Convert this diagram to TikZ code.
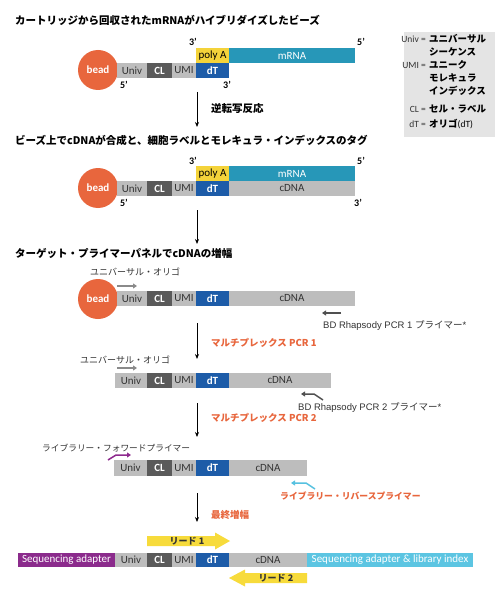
\documentclass[tikz,border=0pt]{standalone}
\usepackage{fontspec}
\setmainfont{Carlito}
\newfontfamily\jp{Noto Sans CJK JP}
\newfontfamily\arl{Liberation Sans}
\usetikzlibrary{arrows.meta}
\definecolor{beadc}{HTML}{E8663D}
\definecolor{segg}{HTML}{BDBDBD}
\definecolor{cld}{HTML}{5A5A5A}
\definecolor{dtb}{HTML}{1D5CA8}
\definecolor{polyy}{HTML}{F4D33A}
\definecolor{mrnac}{HTML}{2797B8}
\definecolor{seqp}{HTML}{8B2B8C}
\definecolor{seqb}{HTML}{5CC5E2}
\definecolor{orng}{HTML}{E8663D}
\definecolor{yarr}{HTML}{F7DB3B}
\definecolor{legbg}{HTML}{E4E4E4}
\definecolor{txtg}{HTML}{333333}
\definecolor{primg}{HTML}{8A8A8A}
\definecolor{primd}{HTML}{505050}
\definecolor{primp}{HTML}{8E2A8E}
\definecolor{primb}{HTML}{56C1E0}
\newcommand\dseg[8]{\node[segbox,fill=#6,text=#7,minimum width={(#3-#2)*1pt},minimum height={(#5-#4)*1pt}] (#1) at ({(#2+#3)/2},{(#4+#5)/2}) {#8};}
\newcommand\corestrand[4]{%
\dseg{#1u}{#4}{147}{#2}{#3}{segg}{txtg}{Univ}
\dseg{#1c}{147}{172}{#2}{#3}{cld}{white}{\bfseries CL}
\dseg{#1m}{172}{196}{#2}{#3}{segg}{txtg}{UMI}
\dseg{#1d}{196}{229}{#2}{#3}{dtb}{white}{\bfseries dT}}
\begin{document}
\begin{tikzpicture}[x=1pt,y=-1pt,
  segbox/.style={inner sep=0pt,outer sep=0pt,font=\fontsize{11}{12}\selectfont},
  ttl/.style={anchor=west,inner sep=0pt,font=\jp\bfseries\fontsize{10.5}{12}\selectfont},
  beadn/.style={circle,fill=beadc,minimum size=40pt,inner sep=0pt,text=white,font=\bfseries\fontsize{11}{12}\selectfont},
  prime/.style={inner sep=0pt,font=\bfseries\fontsize{10}{11}\selectfont},
  varrow/.style={line width=0.8pt,-{Stealth[length=5pt,width=4pt]}},
  primer/.style={line width=1.8pt,-{Triangle[length=4pt,width=5pt]}},
  steplbl/.style={anchor=west,inner sep=0pt,font=\jp\bfseries\fontsize{10.5}{12}\selectfont},
  orlbl/.style={anchor=west,inner sep=0pt,text=orng,font=\jp\bfseries\fontsize{9.5}{11}\selectfont},
  olig/.style={anchor=west,inner sep=0pt,text=txtg,font=\jp\fontsize{9}{10}\selectfont},
  bdl/.style={anchor=west,inner sep=0pt,text=txtg,font=\arl\fontsize{9.5}{10}\selectfont},
  legl/.style={anchor=base east,inner sep=0pt,text=txtg,font=\fontsize{9.5}{10}\selectfont},
  legr/.style={anchor=base west,inner sep=0pt,text=black,font=\jp\bfseries\fontsize{9.5}{11}\selectfont},
  readl/.style={inner sep=0pt,text=txtg,font=\jp\bfseries\fontsize{9}{10}\selectfont}]
\useasboundingbox (0,0) rectangle (500,596);
\fill[white] (0,0) rectangle (500,596);

% ---------- legend
\node[fill=legbg,minimum width=91pt,minimum height=105pt,inner sep=0pt] (leg) at (449.5,84.5) {};
\node[legl] (lu) at (426,43) {Univ =};
\node[legr] (lu1) at (429,43) {ユニバーサル};
\node[legr] (lu2) at (429,56) {シーケンス};
\node[legl] (lm) at (426,69) {UMI =};
\node[legr] (lm1) at (429,69) {ユニーク};
\node[legr] (lm2) at (429,82) {モレキュラ};
\node[legr] (lm3) at (429,95) {インデックス};
\node[legl] (lc) at (426,113) {CL =};
\node[legr] (lc1) at (429,113) {セル・ラベル};
\node[legl] (ld) at (426,128) {dT =};
\node[legr] (ld1) at (429,128) {オリゴ\normalfont\fontsize{9.5}{11}\selectfont(dT)};

% ---------- section 1
\node[ttl] (t1) at (15,20) {カートリッジから回収されたmRNAがハイブリダイズしたビーズ};
\node[beadn] (b1) at (98,70) {bead};
\corestrand{s1}{63}{78}{117}
\dseg{s1p}{196}{229}{48}{63}{polyy}{black}{poly A}
\dseg{s1r}{229}{355}{48}{63}{mrnac}{white}{mRNA}
\node[prime] (p1a) at (193,42) {3'};
\node[prime] (p1b) at (361,42) {5'};
\node[prime] (p1c) at (124,85) {5'};
\node[prime] (p1d) at (227,85) {3'};
\coordinate (a1s) at (197,92);
\coordinate (a1e) at (197,127);
\draw[varrow] (a1s) -- (a1e);
\node[steplbl] (l1) at (211,109) {逆転写反応};

% ---------- section 2
\node[ttl] (t2) at (15,140) {ビーズ上でcDNAが合成と、細胞ラベルとモレキュラ・インデックスのタグ};
\node[beadn] (b2) at (98,188) {bead};
\corestrand{s2}{181}{196}{117}
\dseg{s2x}{229}{355}{181}{196}{segg}{txtg}{cDNA}
\dseg{s2p}{196}{229}{166}{181}{polyy}{black}{poly A}
\dseg{s2r}{229}{355}{166}{181}{mrnac}{white}{mRNA}
\node[prime] (p2a) at (193,161) {3'};
\node[prime] (p2b) at (361,161) {5'};
\node[prime] (p2c) at (124,203) {5'};
\node[prime] (p2d) at (358,203) {3'};
\coordinate (a2s) at (197,210);
\coordinate (a2e) at (197,244);
\draw[varrow] (a2s) -- (a2e);

% ---------- section 3
\node[ttl] (t3) at (15,253) {ターゲット・プライマーパネルでcDNAの増幅};
\node[olig] (o3) at (90,272) {ユニバーサル・オリゴ};
\coordinate (g3a) at (117,286);
\coordinate (g3b) at (137,286);
\draw[primer,primg] (g3a) -- (g3b);
\node[beadn] (b3) at (98,299) {bead};
\corestrand{s3}{291}{306}{117}
\dseg{s3x}{229}{355}{291}{306}{segg}{txtg}{cDNA}
\coordinate (r3a) at (341,313);
\coordinate (r3b) at (322,313);
\draw[primer,primd] (r3a) -- (r3b);
\node[bdl] (bd1) at (323,326) {BD Rhapsody PCR 1 {\jp プライマー}*};
\coordinate (a3s) at (197,323);
\coordinate (a3e) at (197,359);
\draw[varrow] (a3s) -- (a3e);
\node[orlbl] (l3) at (211,343) {マルチプレックス PCR 1};

% ---------- section 4
\node[olig] (o4) at (80,360) {ユニバーサル・オリゴ};
\coordinate (g4a) at (117,368);
\coordinate (g4b) at (137,368);
\draw[primer,primg] (g4a) -- (g4b);
\corestrand{s4}{373}{388}{115}
\dseg{s4x}{229}{331}{373}{388}{segg}{txtg}{cDNA}
\coordinate (r4a) at (323,400);
\coordinate (r4b) at (314,394);
\coordinate (r4c) at (301,394);
\draw[primer,primd,line width=1.5pt] (r4a) -- (r4b) -- (r4c);
\node[bdl] (bd2) at (298,408) {BD Rhapsody PCR 2 {\jp プライマー}*};
\coordinate (a4s) at (197,403);
\coordinate (a4e) at (197,437);
\draw[varrow] (a4s) -- (a4e);
\node[orlbl] (l4) at (211,418) {マルチプレックス PCR 2};

% ---------- section 5
\node[olig,font=\jp\fontsize{8.7}{10}\selectfont] (o5) at (42,448) {ライブラリー・フォワードプライマー};
\coordinate (f5a) at (108,460);
\coordinate (f5b) at (116,455);
\coordinate (f5c) at (131,455);
\draw[primer,primp,line width=1.5pt] (f5a) -- (f5b) -- (f5c);
\corestrand{s5}{460}{476}{114}
\dseg{s5x}{229}{307}{460}{476}{segg}{txtg}{cDNA}
\coordinate (r5a) at (315,489);
\coordinate (r5b) at (306,483);
\coordinate (r5c) at (291,483);
\draw[primer,primb,line width=1.5pt] (r5a) -- (r5b) -- (r5c);
\node[orlbl,font=\jp\bfseries\fontsize{8.8}{10}\selectfont] (l5r) at (280,496) {ライブラリー・リバースプライマー};
\coordinate (a5s) at (197,493);
\coordinate (a5e) at (197,522);
\draw[varrow] (a5s) -- (a5e);
\node[orlbl] (l5) at (211,515) {最終増幅};

% ---------- section 6
\fill[yarr] (147,536) -- (215,536) -- (215,532.5) -- (230,541) -- (215,549.5) -- (215,546) -- (147,546) -- cycle;
\node[readl] (rd1) at (187,541) {リード 1};
\dseg{s6a}{18}{115}{553}{567}{seqp}{white}{Sequencing adapter}
\corestrand{s6}{553}{567}{115}
\dseg{s6x}{229}{307}{553}{567}{segg}{txtg}{cDNA}
\dseg{s6b}{307}{473}{553}{567}{seqb}{white}{Sequencing adapter \& library index}
\fill[yarr] (307,573) -- (245,573) -- (245,569.5) -- (229,578) -- (245,586.5) -- (245,583) -- (307,583) -- cycle;
\node[readl] (rd2) at (276,578) {リード 2};
\end{tikzpicture}
\end{document}
